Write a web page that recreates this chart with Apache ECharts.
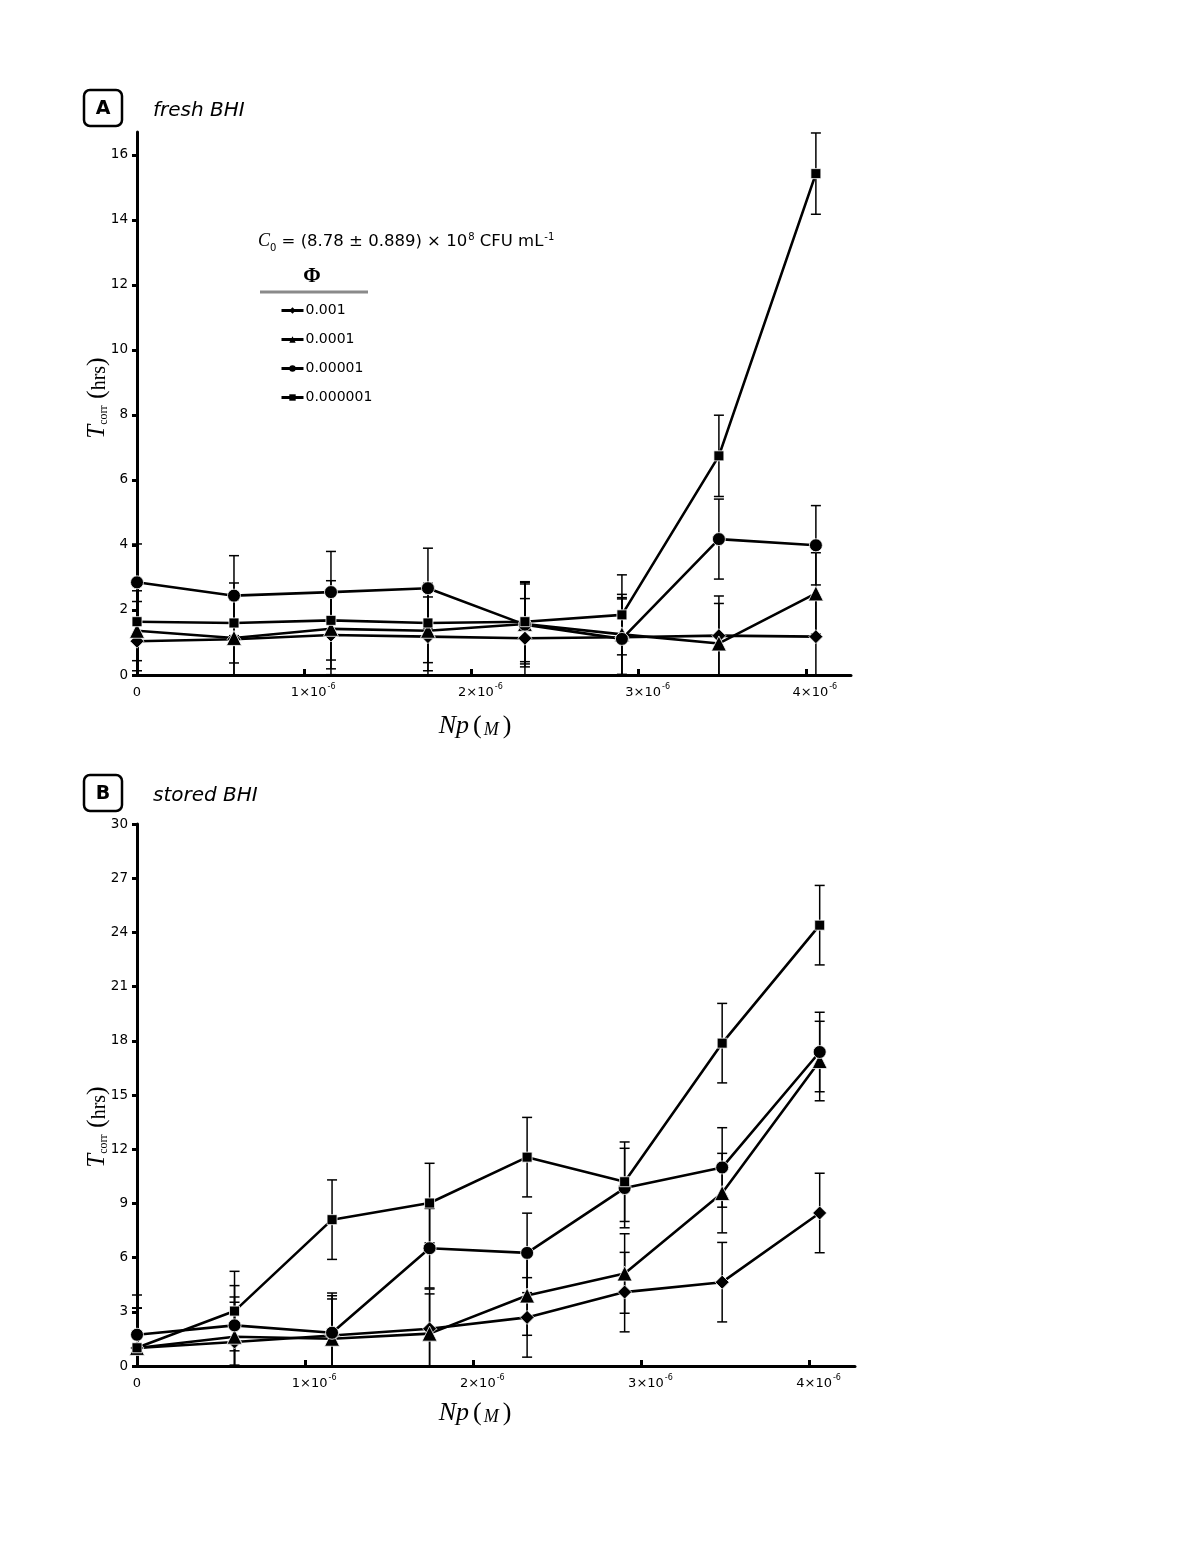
<!DOCTYPE html>
<html>
<head>
<meta charset="utf-8">
<script src="https://cdn.jsdelivr.net/npm/echarts@6/dist/echarts.min.js"></script>
<style>html,body{margin:0;padding:0;background:#fff;}#c{width:1200px;height:1553px;}</style>
</head>
<body>
<div id="c"></div>
<script>
// ---- data ----
const npValues = [0, 0.58e-6, 1.16e-6, 1.74e-6, 2.32e-6, 2.90e-6, 3.48e-6, 4.06e-6];
const seriesNames = ['0.001', '0.0001', '0.00001', '0.000001'];
const xTickValues = [0, 1e-6, 2e-6, 3e-6, 4e-6];
const yTicksA = [0, 2, 4, 6, 8, 10, 12, 14, 16];
const yTicksB = [0, 3, 6, 9, 12, 15, 18, 21, 24, 27, 30];

// Panel A: fresh BHI
const freshPhi001 = [1.04, 1.10, 1.23, 1.18, 1.13, 1.16, 1.21, 1.18];
const freshPhi0001 = [1.36, 1.14, 1.42, 1.36, 1.57, 1.25, 0.97, 2.51];
const freshPhi00001 = [2.85, 2.44, 2.55, 2.67, 1.55, 1.11, 4.18, 3.99];
const freshPhi000001 = [1.64, 1.60, 1.68, 1.60, 1.64, 1.85, 6.74, 15.42];
const freshErr001 = [1.22, 1.22, 1.22, 1.22, 1.22, 1.22, 1.22, 1.22];
const freshErr0001 = [1.23, 1.23, 1.23, 1.23, 1.23, 1.23, 1.23, 1.25];
const freshErr00001 = [1.18, 1.23, 1.25, 1.23, 1.30, 1.23, 1.23, 1.22];
const freshErr000001 = [1.20, 1.23, 1.22, 1.22, 1.23, 1.23, 1.25, 1.25];

// Panel B: stored BHI
const storedPhi001 = [1.00, 1.33, 1.69, 2.06, 2.69, 4.09, 4.64, 8.47];
const storedPhi0001 = [1.00, 1.62, 1.51, 1.79, 3.90, 5.12, 9.57, 16.88];
const storedPhi00001 = [1.73, 2.25, 1.84, 6.52, 6.26, 9.85, 10.99, 17.38];
const storedPhi000001 = [1.01, 3.04, 8.10, 9.02, 11.56, 10.20, 17.87, 24.40];
const storedErr001 = [2.2, 2.2, 2.2, 2.2, 2.2, 2.2, 2.2, 2.2];
const storedErr0001 = [2.2, 2.2, 2.2, 2.2, 2.2, 2.2, 2.2, 2.2];
const storedErr00001 = [2.2, 2.2, 2.2, 2.2, 2.2, 2.2, 2.2, 2.2];
const storedErr000001 = [2.2, 2.2, 2.2, 2.2, 2.2, 2.2, 2.2, 2.2];

// ---- chart ----
const chart = echarts.init(document.getElementById('c'), null, {renderer: 'canvas'});
const SANS = 'DejaVu Sans';
const SERIF = 'Liberation Serif';

const symbols = ['diamond', 'triangle', 'circle', 'rect'];
const symbolSizes = [14, 15, 13, 10];

function pairs(vals) { return npValues.map((x, i) => [x, vals[i]]); }
function errPairs(vals, errs) { return npValues.map((x, i) => [x, vals[i], errs[i]]); }

function errorSeries(vals, errs, idx) {
  return {
    type: 'custom',
    xAxisIndex: idx, yAxisIndex: idx,
    silent: true,
    z: 1,
    data: errPairs(vals, errs),
    renderItem: function (params, api) {
      const x = api.value(0), v = api.value(1), e = api.value(2);
      const hiV = v + e, loV = Math.max(0, v - e);
      const hi = api.coord([x, hiV]);
      const lo = api.coord([x, loV]);
      const cw = 5;
      const children = [{
        type: 'line', shape: {x1: hi[0], y1: hi[1], x2: lo[0], y2: lo[1]},
        style: {stroke: '#000', lineWidth: 1.5}
      }, {
        type: 'line', shape: {x1: hi[0] - cw, y1: hi[1], x2: hi[0] + cw, y2: hi[1]},
        style: {stroke: '#000', lineWidth: 1.5}
      }];
      if (v - e > 0) {
        children.push({
          type: 'line', shape: {x1: lo[0] - cw, y1: lo[1], x2: lo[0] + cw, y2: lo[1]},
          style: {stroke: '#000', lineWidth: 1.5}
        });
      }
      return {type: 'group', children: children};
    }
  };
}

function lineSeries(name, vals, k, idx) {
  return {
    type: 'line', name: name,
    xAxisIndex: idx, yAxisIndex: idx,
    data: pairs(vals),
    symbol: symbols[k], symbolSize: symbolSizes[k],
    z: 3,
    lineStyle: {color: '#000', width: 2.6},
    itemStyle: {color: '#000', borderColor: '#fff', borderWidth: 0.8},
    emphasis: {disabled: true}
  };
}

const freshVals = [freshPhi001, freshPhi0001, freshPhi00001, freshPhi000001];
const freshErrs = [freshErr001, freshErr0001, freshErr00001, freshErr000001];
const storedVals = [storedPhi001, storedPhi0001, storedPhi00001, storedPhi000001];
const storedErrs = [storedErr001, storedErr0001, storedErr00001, storedErr000001];

const series = [];
for (let k = 0; k < 4; k++) series.push(errorSeries(freshVals[k], freshErrs[k], 0));
for (let k = 0; k < 4; k++) series.push(errorSeries(storedVals[k], storedErrs[k], 1));
for (let k = 0; k < 4; k++) series.push(lineSeries(seriesNames[k], freshVals[k], k, 0));
for (let k = 0; k < 4; k++) series.push(lineSeries(seriesNames[k], storedVals[k], k, 1));

function xAxisCfg(gi) {
  return {
    type: 'value', gridIndex: gi, min: 0, max: 4.27e-6,
    axisLine: {show: true, lineStyle: {color: '#000', width: 3}},
    axisTick: {show: true, inside: true, length: 6, lineStyle: {color: '#000', width: 3}, customValues: xTickValues},
    splitLine: {show: false},
    axisLabel: {
      customValues: xTickValues,
      margin: 8,
      color: '#000',
      formatter: function (v) {
        if (v === 0) return '{z|0}';
        return '{n|' + Math.round(v / 1e-6) + '×10}{s|-6}';
      },
      rich: {
        z: {fontFamily: SANS, fontSize: 13, color: '#000', lineHeight: 16, verticalAlign: 'bottom'},
        n: {fontFamily: SANS, fontSize: 13, color: '#000', lineHeight: 16, verticalAlign: 'bottom', padding: [0, 0, 0, 18]},
        s: {fontFamily: SANS, fontSize: 8, color: '#000', lineHeight: 9, verticalAlign: 'top', padding: [0, 0, 0, 1]}
      }
    }
  };
}

function yAxisCfg(gi, max, ticks) {
  return {
    type: 'value', gridIndex: gi, min: 0, max: max,
    axisLine: {show: true, lineStyle: {color: '#000', width: 3}},
    axisTick: {show: true, length: 5, lineStyle: {color: '#000', width: 3}, customValues: ticks},
    splitLine: {show: false},
    axisLabel: {customValues: ticks, margin: 9, color: '#000', fontFamily: SANS, fontSize: 13.5}
  };
}

function yName(cy) {
  return {
    type: 'text', x: 97, y: cy, rotation: Math.PI / 2,
    style: {
      text: '{t|T}{sub|corr}{p| (}{h|hrs}{p|)}',
      align: 'center', verticalAlign: 'middle',
      rich: {
        t: {fontFamily: SERIF, fontStyle: 'italic', fontSize: 25, fill: '#000', verticalAlign: 'bottom', lineHeight: 26},
        sub: {fontFamily: SERIF, fontSize: 12, fill: '#000', verticalAlign: 'bottom', lineHeight: 20},
        p: {fontFamily: SERIF, fontSize: 26, fill: '#000', verticalAlign: 'bottom', lineHeight: 26},
        h: {fontFamily: SERIF, fontSize: 20, fill: '#000', verticalAlign: 'bottom', lineHeight: 24}
      }
    }
  };
}

function xName(cy) {
  return {
    type: 'text', x: 476, y: cy,
    style: {
      text: '{n|Np}{p|(}{m|M}{p|)}',
      align: 'center', verticalAlign: 'middle',
      rich: {
        n: {fontFamily: SERIF, fontStyle: 'italic', fontSize: 26, fill: '#000', lineHeight: 30, verticalAlign: 'bottom'},
        p: {fontFamily: SERIF, fontSize: 26, fill: '#000', lineHeight: 30, verticalAlign: 'bottom', padding: [0, 2, 0, 4]},
        m: {fontFamily: SERIF, fontStyle: 'italic', fontSize: 18, fill: '#000', lineHeight: 26, verticalAlign: 'bottom'}
      }
    }
  };
}

function panelLabel(letter, title, y) {
  return [{
    type: 'rect', shape: {x: 84, y: y, width: 38, height: 36, r: 6},
    style: {fill: '#fff', stroke: '#000', lineWidth: 2.5}
  }, {
    type: 'text', x: 103, y: y + 19,
    style: {text: letter, align: 'center', verticalAlign: 'middle', fontFamily: SANS, fontWeight: 'bold', fontSize: 19, fill: '#000'}
  }, {
    type: 'text', x: 153, y: y + 21,
    style: {text: title, align: 'left', verticalAlign: 'middle', fontFamily: SANS, fontStyle: 'italic', fontSize: 20, fill: '#000'}
  }];
}

const graphics = [].concat(
  panelLabel('A', 'fresh BHI', 90),
  panelLabel('B', 'stored BHI', 775),
  [yName(398), yName(1127), xName(724), xName(1411),
  {
    type: 'text', x: 258, y: 241,
    style: {
      text: '{c|C}{sub|0}{t| = (8.78 ± 0.889) × 10}{sup|8}{t| CFU mL}{sup|-1}',
      align: 'left', verticalAlign: 'middle',
      rich: {
        c: {fontFamily: SERIF, fontStyle: 'italic', fontSize: 18, fill: '#000', lineHeight: 19, verticalAlign: 'bottom'},
        sub: {fontFamily: SANS, fontSize: 10, fill: '#000', lineHeight: 12, verticalAlign: 'bottom', padding: [0, 0, -3, 0]},
        t: {fontFamily: SANS, fontSize: 16.5, fill: '#000', lineHeight: 19, verticalAlign: 'bottom'},
        sup: {fontFamily: SANS, fontSize: 10, fill: '#000', lineHeight: 11, verticalAlign: 'top', padding: [1, 0, 0, 1]}
      }
    }
  }, {
    type: 'text', x: 312, y: 277,
    style: {text: 'Φ', align: 'center', verticalAlign: 'middle', fontFamily: SERIF, fontSize: 21, fontWeight: 'bold', fill: '#000'}
  }, {
    type: 'line', shape: {x1: 260, y1: 292, x2: 368, y2: 292},
    style: {stroke: '#8a8a8a', lineWidth: 3}
  }]
);

const option = {
  backgroundColor: '#fff',
  animation: false,
  grid: [
    {left: 137, top: 132, width: 714, height: 543, containLabel: false},
    {left: 137, top: 824, width: 718, height: 542, containLabel: false}
  ],
  xAxis: [xAxisCfg(0), xAxisCfg(1)],
  yAxis: [yAxisCfg(0, 16.7, yTicksA), yAxisCfg(1, 30, yTicksB)],
  legend: {
    data: seriesNames,
    orient: 'vertical',
    left: 280, top: 302,
    padding: 0,
    itemWidth: 22, itemHeight: 8,
    itemGap: 12,
    selectedMode: false,
    lineStyle: {width: 3, color: '#000'},
    itemStyle: {color: '#000', borderWidth: 0},
    textStyle: {fontFamily: SANS, fontSize: 14, color: '#000', lineHeight: 17, padding: [0, 0, 0, -3]}
  },
  graphic: graphics,
  series: series
};
chart.setOption(option);
</script>
</body>
</html>
